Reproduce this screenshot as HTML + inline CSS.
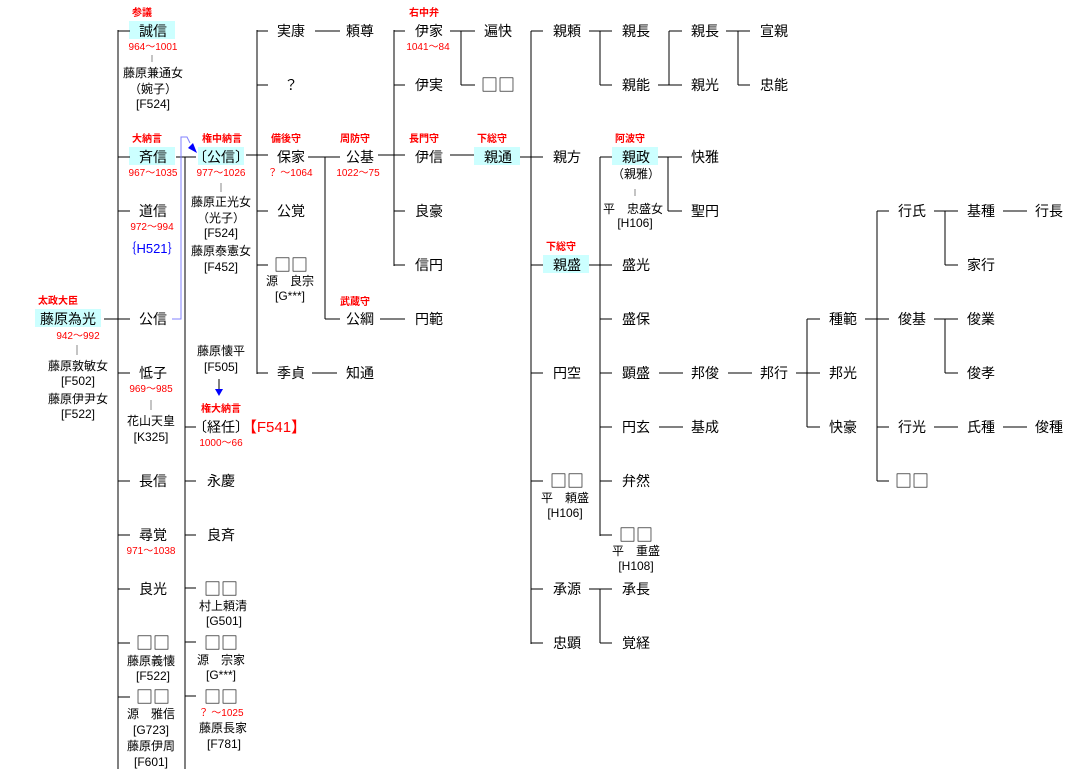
<!DOCTYPE html>
<html><head><meta charset="utf-8"><style>
html,body{margin:0;padding:0;background:#fff;width:1069px;height:769px;overflow:hidden}
svg{display:block}
text{font-family:"Liberation Sans","Noto Sans CJK JP",sans-serif;text-anchor:middle}
.n{font-size:14px;fill:#000}
.q{font-family:"Noto Sans CJK JP",sans-serif;font-size:17px;fill:#000}
.s{font-size:12px;fill:#000}
.r{font-size:10px;fill:#f00}
.t{font-size:10px;fill:#f00;font-weight:bold}
line{stroke:#000;stroke-width:1.2;shape-rendering:crispEdges}
.g{stroke:#888;stroke-width:1}
</style></head><body>
<svg width="1069" height="769" xmlns="http://www.w3.org/2000/svg">
<g fill="#ccffff">
<rect x="129" y="21" width="46" height="18"/>
<rect x="129" y="147" width="46" height="18"/>
<rect x="198" y="147" width="46" height="18"/>
<rect x="474" y="147" width="46" height="18"/>
<rect x="612" y="147" width="46" height="18"/>
<rect x="543" y="255" width="46" height="18"/>
<rect x="35" y="309" width="66" height="18"/>
</g>
<g>
<line x1="118" y1="30" x2="118" y2="769"/>
<line x1="118" y1="31" x2="130" y2="31"/><line x1="118" y1="157" x2="130" y2="157"/><line x1="118" y1="211" x2="130" y2="211"/>
<line x1="104" y1="319" x2="130" y2="319"/><line x1="118" y1="373" x2="130" y2="373"/><line x1="118" y1="481" x2="130" y2="481"/>
<line x1="118" y1="535" x2="130" y2="535"/><line x1="118" y1="589" x2="130" y2="589"/><line x1="118" y1="643" x2="130" y2="643"/><line x1="118" y1="697" x2="130" y2="697"/>
<line x1="185" y1="157" x2="185" y2="769"/><line x1="176" y1="157" x2="196" y2="157"/>
<line x1="185" y1="427" x2="196" y2="427"/><line x1="185" y1="481" x2="196" y2="481"/><line x1="185" y1="535" x2="196" y2="535"/>
<line x1="185" y1="588" x2="196" y2="588"/><line x1="185" y1="642" x2="196" y2="642"/><line x1="185" y1="696" x2="196" y2="696"/>
<line x1="257" y1="30" x2="257" y2="374"/><line x1="257" y1="31" x2="268" y2="31"/><line x1="257" y1="85" x2="268" y2="85"/>
<line x1="246" y1="155" x2="268" y2="155"/><line x1="257" y1="211" x2="268" y2="211"/><line x1="257" y1="265" x2="268" y2="265"/><line x1="257" y1="373" x2="268" y2="373"/>
<line x1="315" y1="31" x2="340" y2="31"/><line x1="312" y1="373" x2="337" y2="373"/>
<line x1="308" y1="157" x2="340" y2="157"/><line x1="325" y1="157" x2="325" y2="319"/><line x1="325" y1="319" x2="340" y2="319"/>
<line x1="394" y1="30" x2="394" y2="266"/><line x1="394" y1="31" x2="405" y2="31"/><line x1="394" y1="85" x2="405" y2="85"/>
<line x1="378" y1="155" x2="405" y2="155"/><line x1="394" y1="211" x2="405" y2="211"/><line x1="394" y1="265" x2="405" y2="265"/>
<line x1="380" y1="319" x2="405" y2="319"/>
<line x1="450" y1="31" x2="475" y2="31"/><line x1="461" y1="31" x2="461" y2="85"/><line x1="461" y1="85" x2="475" y2="85"/>
<line x1="450" y1="155" x2="474" y2="155"/>
<line x1="531" y1="31" x2="531" y2="644"/><line x1="520" y1="157" x2="543" y2="157"/>
<line x1="531" y1="31" x2="543" y2="31"/><line x1="531" y1="265" x2="543" y2="265"/><line x1="531" y1="373" x2="543" y2="373"/>
<line x1="531" y1="481" x2="543" y2="481"/><line x1="531" y1="589" x2="543" y2="589"/><line x1="531" y1="643" x2="543" y2="643"/>
<line x1="589" y1="31" x2="612" y2="31"/><line x1="600" y1="31" x2="600" y2="85"/><line x1="600" y1="85" x2="612" y2="85"/>
<line x1="658" y1="85" x2="682" y2="85"/><line x1="669" y1="31" x2="669" y2="85"/><line x1="669" y1="31" x2="682" y2="31"/>
<line x1="726" y1="31" x2="750" y2="31"/><line x1="738" y1="31" x2="738" y2="85"/><line x1="738" y1="85" x2="750" y2="85"/>
<line x1="589" y1="265" x2="612" y2="265"/><line x1="600" y1="157" x2="600" y2="536"/><line x1="600" y1="157" x2="612" y2="157"/>
<line x1="600" y1="319" x2="612" y2="319"/><line x1="600" y1="373" x2="612" y2="373"/><line x1="600" y1="427" x2="612" y2="427"/>
<line x1="600" y1="481" x2="612" y2="481"/><line x1="600" y1="535" x2="612" y2="535"/>
<line x1="658" y1="157" x2="682" y2="157"/><line x1="668" y1="157" x2="668" y2="211"/><line x1="668" y1="211" x2="682" y2="211"/>
<line x1="589" y1="589" x2="612" y2="589"/><line x1="600" y1="589" x2="600" y2="643"/><line x1="600" y1="643" x2="612" y2="643"/>
<line x1="659" y1="373" x2="683" y2="373"/><line x1="728" y1="373" x2="752" y2="373"/><line x1="659" y1="427" x2="683" y2="427"/>
<line x1="796" y1="373" x2="820" y2="373"/><line x1="807" y1="319" x2="807" y2="427"/><line x1="807" y1="319" x2="820" y2="319"/><line x1="807" y1="427" x2="820" y2="427"/>
<line x1="865" y1="319" x2="889" y2="319"/><line x1="877" y1="211" x2="877" y2="481"/><line x1="877" y1="211" x2="889" y2="211"/>
<line x1="877" y1="427" x2="889" y2="427"/><line x1="877" y1="481" x2="889" y2="481"/>
<line x1="934" y1="211" x2="958" y2="211"/><line x1="945" y1="211" x2="945" y2="265"/><line x1="945" y1="265" x2="958" y2="265"/>
<line x1="934" y1="319" x2="958" y2="319"/><line x1="945" y1="319" x2="945" y2="373"/><line x1="945" y1="373" x2="958" y2="373"/>
<line x1="1003" y1="211" x2="1027" y2="211"/><line x1="934" y1="427" x2="958" y2="427"/><line x1="1003" y1="427" x2="1027" y2="427"/>
<line class="g" x1="152" y1="55" x2="152" y2="62"/><line class="g" x1="77" y1="345" x2="77" y2="355"/>
<line class="g" x1="151" y1="400" x2="151" y2="410"/><line class="g" x1="221" y1="183" x2="221" y2="192"/><line class="g" x1="635" y1="189" x2="635" y2="196"/>
</g>
<polyline points="172,319 181,319 181,137 187,137 190,143" fill="none" stroke="#8080ff" stroke-width="1"/>
<polygon points="197,153 188,148 193,143" fill="#0000ff"/>
<line x1="219" y1="379" x2="219" y2="390" stroke="#0000ff" stroke-width="1"/>
<polygon points="215,389 223,389 219,396" fill="#0000ff"/>
<text class="t" x="142" y="16">参議</text>
<text class="n" x="153" y="36">誠信</text><text class="r" x="153" y="50">964〜1001</text>
<text class="s" x="153" y="77">藤原兼通女</text><text class="s" x="153" y="93">（婉子）</text><text class="s" x="153" y="108">[F524]</text>
<text class="t" x="147" y="142">大納言</text><text class="n" x="153" y="162">斉信</text><text class="r" x="153" y="176">967〜1035</text>
<text class="n" x="153" y="216">道信</text><text class="r" x="152" y="230">972〜994</text>
<text x="152" y="253" style="font-size:13px;fill:#00f">｛H521｝</text>
<text class="n" x="153" y="324">公信</text>
<text class="t" x="58" y="304">太政大臣</text><text class="n" x="68" y="324">藤原為光</text><text class="r" x="78" y="339">942〜992</text>
<text class="s" x="78" y="370">藤原敦敏女</text><text class="s" x="78" y="385">[F502]</text><text class="s" x="78" y="403">藤原伊尹女</text><text class="s" x="78" y="418">[F522]</text>
<text class="n" x="153" y="378">怟子</text><text class="r" x="151" y="392">969〜985</text>
<text class="s" x="151" y="425">花山天皇</text><text class="s" x="151" y="441">[K325]</text>
<text class="n" x="153" y="486">長信</text><text class="n" x="153" y="540">尋覚</text><text class="r" x="151" y="554">971〜1038</text>
<text class="n" x="153" y="594">良光</text>
<text class="q" x="153" y="649">□□</text><text class="s" x="151" y="665">藤原義懐</text><text class="s" x="153" y="680">[F522]</text>
<text class="q" x="153" y="703">□□</text><text class="s" x="151" y="718">源　雅信</text><text class="s" x="151" y="734">[G723]</text><text class="s" x="151" y="750">藤原伊周</text><text class="s" x="151" y="766">[F601]</text>
<text class="t" x="222" y="142">権中納言</text><text class="n" x="221" y="162">〔公信〕</text><text class="r" x="221" y="176">977〜1026</text>
<text class="s" x="221" y="206">藤原正光女</text><text class="s" x="221" y="222">（光子）</text><text class="s" x="221" y="237">[F524]</text>
<text class="s" x="221" y="255">藤原泰憲女</text><text class="s" x="221" y="271">[F452]</text>
<text class="s" x="221" y="355">藤原懐平</text><text class="s" x="221" y="371">[F505]</text>
<text class="t" x="221" y="412">権大納言</text><text class="n" x="221" y="432">〔経任〕</text>
<text x="274" y="432" style="font-size:15px;fill:#f00">【F541】</text><text class="r" x="221" y="446">1000〜66</text>
<text class="n" x="221" y="486">永慶</text><text class="n" x="221" y="540">良斉</text>
<text class="q" x="221" y="595">□□</text><text class="s" x="223" y="610">村上頼清</text><text class="s" x="224" y="625">[G501]</text>
<text class="q" x="221" y="649">□□</text><text class="s" x="221" y="664">源　宗家</text><text class="s" x="221" y="679">[G***]</text>
<text class="q" x="221" y="703">□□</text><text class="r" x="221" y="716">？ 〜1025</text><text class="s" x="223" y="732">藤原長家</text><text class="s" x="224" y="748">[F781]</text>
<text class="n" x="291" y="36">実康</text><text class="n" x="291" y="90">？</text>
<text class="t" x="286" y="142">備後守</text><text class="n" x="291" y="162">保家</text><text class="r" x="290" y="176">？ 〜1064</text>
<text class="n" x="291" y="216">公覚</text>
<text class="q" x="291" y="271">□□</text><text class="s" x="290" y="285">源　良宗</text><text class="s" x="290" y="300">[G***]</text>
<text class="n" x="291" y="378">季貞</text>
<text class="n" x="360" y="36">頼尊</text>
<text class="t" x="355" y="142">周防守</text><text class="n" x="360" y="162">公基</text><text class="r" x="358" y="176">1022〜75</text>
<text class="t" x="355" y="305">武蔵守</text><text class="n" x="360" y="324">公綱</text>
<text class="n" x="360" y="378">知通</text>
<text class="t" x="424" y="16">右中弁</text><text class="n" x="429" y="36">伊家</text><text class="r" x="428" y="50">1041〜84</text>
<text class="n" x="429" y="90">伊実</text>
<text class="t" x="424" y="142">長門守</text><text class="n" x="429" y="162">伊信</text>
<text class="n" x="429" y="216">良豪</text><text class="n" x="429" y="270">信円</text><text class="n" x="429" y="324">円範</text>
<text class="n" x="498" y="36">遍快</text><text class="q" x="498" y="91">□□</text>
<text class="t" x="492" y="142">下総守</text><text class="n" x="498" y="162">親通</text>
<text class="n" x="567" y="36">親頼</text><text class="n" x="567" y="162">親方</text>
<text class="t" x="561" y="250">下総守</text><text class="n" x="567" y="270">親盛</text>
<text class="n" x="567" y="378">円空</text>
<text class="q" x="567" y="487">□□</text><text class="s" x="565" y="502">平　頼盛</text><text class="s" x="565" y="517">[H106]</text>
<text class="n" x="567" y="594">承源</text><text class="n" x="567" y="648">忠顕</text>
<text class="n" x="636" y="36">親長</text><text class="n" x="636" y="90">親能</text>
<text class="t" x="630" y="142">阿波守</text><text class="n" x="636" y="162">親政</text>
<text class="s" x="636" y="178">（親雅）</text><text class="s" x="633" y="213">平　忠盛女</text><text class="s" x="635" y="227">[H106]</text>
<text class="n" x="636" y="270">盛光</text><text class="n" x="636" y="324">盛保</text><text class="n" x="636" y="378">顕盛</text>
<text class="n" x="636" y="432">円玄</text><text class="n" x="636" y="486">弁然</text>
<text class="q" x="636" y="541">□□</text><text class="s" x="636" y="555">平　重盛</text><text class="s" x="636" y="570">[H108]</text>
<text class="n" x="636" y="594">承長</text><text class="n" x="636" y="648">覚経</text>
<text class="n" x="705" y="36">親長</text><text class="n" x="705" y="90">親光</text>
<text class="n" x="705" y="162">快雅</text><text class="n" x="705" y="216">聖円</text>
<text class="n" x="705" y="378">邦俊</text><text class="n" x="705" y="432">基成</text>
<text class="n" x="774" y="36">宣親</text><text class="n" x="774" y="90">忠能</text><text class="n" x="774" y="378">邦行</text>
<text class="n" x="843" y="324">種範</text><text class="n" x="843" y="378">邦光</text><text class="n" x="843" y="432">快豪</text>
<text class="n" x="912" y="216">行氏</text><text class="n" x="912" y="324">俊基</text><text class="n" x="912" y="432">行光</text><text class="q" x="912" y="487">□□</text>
<text class="n" x="981" y="216">基種</text><text class="n" x="981" y="270">家行</text><text class="n" x="981" y="324">俊業</text>
<text class="n" x="981" y="378">俊孝</text><text class="n" x="981" y="432">氏種</text>
<text class="n" x="1049" y="216">行長</text><text class="n" x="1049" y="432">俊種</text>
</svg>
</body></html>
